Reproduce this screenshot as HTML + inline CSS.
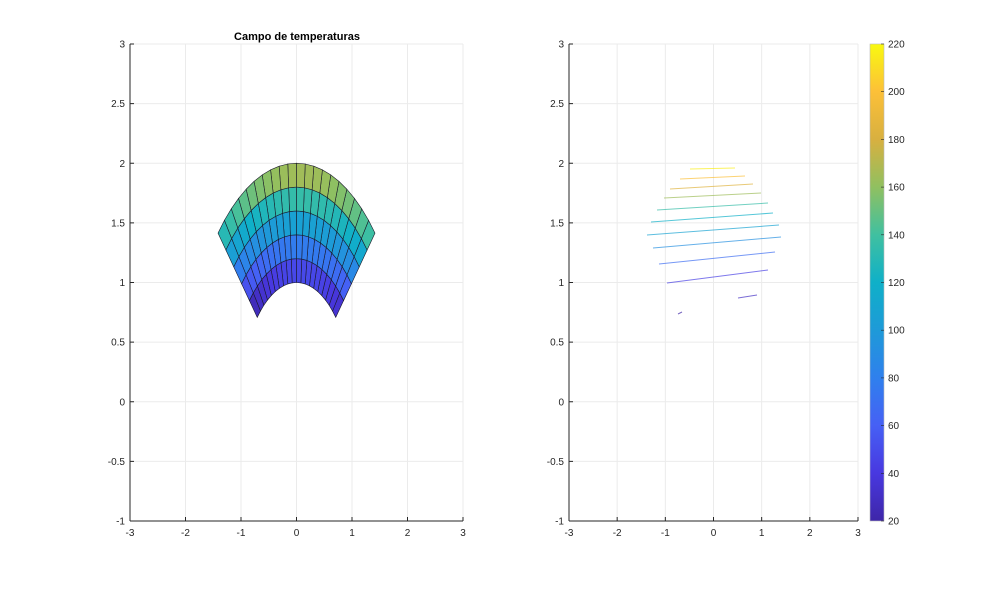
<!DOCTYPE html>
<html><head><meta charset="utf-8"><style>
body{margin:0;background:#fff;}
svg text{font-family:"Liberation Sans",sans-serif;font-size:10px;fill:#262626;}
</style></head><body>
<svg id="s" width="1000" height="586" xmlns="http://www.w3.org/2000/svg">
<rect width="1000" height="586" fill="#fff"/>
<g id="g"></g>
<text x="297" y="40" text-anchor="middle" style="font-weight:bold;font-size:11px;fill:#000">Campo de temperaturas</text>
</svg>
<script>
var g=document.getElementById('g'),h='';
function Y(v){return 44+(3-v)*119.25;}
function axes(x0,x1){
 var sx=(x1-x0)/6;
 for(var i=-3;i<=3;i++){var x=x0+(i+3)*sx;
  h+='<line x1="'+x+'" y1="44" x2="'+x+'" y2="521" stroke="#ebebeb"/>';
  h+='<line x1="'+x+'" y1="521" x2="'+x+'" y2="517" stroke="#262626"/>';
  h+='<text x="'+x+'" y="536" text-anchor="middle">'+(i<0?'-'+(-i):i)+'</text>';}
 for(var k=0;k<=8;k++){var v=-1+k*0.5,y=Y(v);
  h+='<line x1="'+x0+'" y1="'+y+'" x2="'+x1+'" y2="'+y+'" stroke="#ebebeb"/>';
  h+='<line x1="'+x0+'" y1="'+y+'" x2="'+(x0+4)+'" y2="'+y+'" stroke="#262626"/>';
  h+='<text x="'+(x0-5)+'" y="'+(y+3.5)+'" text-anchor="end">'+(v<0?'-'+(-v):v)+'</text>';}
 h+='<line x1="'+x0+'" y1="44" x2="'+x0+'" y2="521" stroke="#262626"/>';
 h+='<line x1="'+x0+'" y1="521" x2="'+x1+'" y2="521" stroke="#262626"/>';
}
axes(130,463);axes(569,858);
var P=[[0,[62,38,168]],[.1,[72,56,224]],[.2,[70,96,245]],[.3,[47,128,237]],[.4,[30,154,216]],[.5,[15,176,200]],[.6,[64,192,160]],[.7,[144,192,96]],[.8,[216,176,64]],[.9,[252,192,56]],[1,[249,249,16]]];
function col(t){t=Math.max(0,Math.min(1,t));for(var i=1;i<P.length;i++)if(t<=P[i][0]){var a=P[i-1],b=P[i],f=(t-a[0])/(b[0]-a[0]);return 'rgb('+[0,1,2].map(function(j){return Math.round(a[1][j]+(b[1][j]-a[1][j])*f)}).join(',')+')';}}
var N=20;function pt(r,a){return [296.5+r*Math.cos(a)*55.5,Y(r*Math.sin(a))];}
for(var b=0;b<5;b++)for(var j=0;j<N;j++){
 var r0=1+b*0.2,r1=r0+0.2,a0=Math.PI/4+j*(Math.PI/2)/N,a1=a0+(Math.PI/2)/N;
 var ps=[pt(r0,a0),pt(r1,a0),pt(r1,a1),pt(r0,a1)];
 var am=(a0+a1)/2,rm=(r0+r1)/2,ym=rm*Math.sin(am);
 var t=0.07+(b+0.5)*0.145+(ym-rm)*0.3+Math.cos(am)*0.03;
 h+='<polygon points="'+ps.map(function(p){return p.join(',')}).join(' ')+'" fill="'+col(t)+'" stroke="#1a1a2a" stroke-width="0.6"/>';
}
var C=[[690,169,735,168,.98],[680,179,745,176,.9],[670,189,753,184,.82],[664,198,761,193,.72],[657,210,768,203,.58],[651,222,773,213,.5],[647,235,779,225,.44],[653,248,781,237,.36],[659,264,775,252,.24],[667,283,768,270,.12],[738,298,757,295,.05],[678,314,682,312,0]];
C.forEach(function(c){h+='<line x1="'+c[0]+'" y1="'+c[1]+'" x2="'+c[2]+'" y2="'+c[3]+'" stroke="'+col(c[4])+'" stroke-width="1" opacity="0.7"/>';});
h+='<defs><linearGradient id="cb" x1="0" y1="1" x2="0" y2="0">'+P.map(function(p){return '<stop offset="'+p[0]+'" stop-color="rgb('+p[1].join(',')+')"/>'}).join('')+'</linearGradient></defs>';
h+='<rect x="870" y="44" width="14" height="477" fill="url(#cb)" stroke="#bbb" stroke-width="0.6"/>';
for(var v=20;v<=220;v+=20){var y=521-(v-20)/200*477;
 h+='<line x1="881" y1="'+y+'" x2="884" y2="'+y+'" stroke="#262626" stroke-width="0.6"/>';
 h+='<text x="888" y="'+(y+3.5)+'">'+v+'</text>';}
g.innerHTML=h;
</script>
</body></html>
